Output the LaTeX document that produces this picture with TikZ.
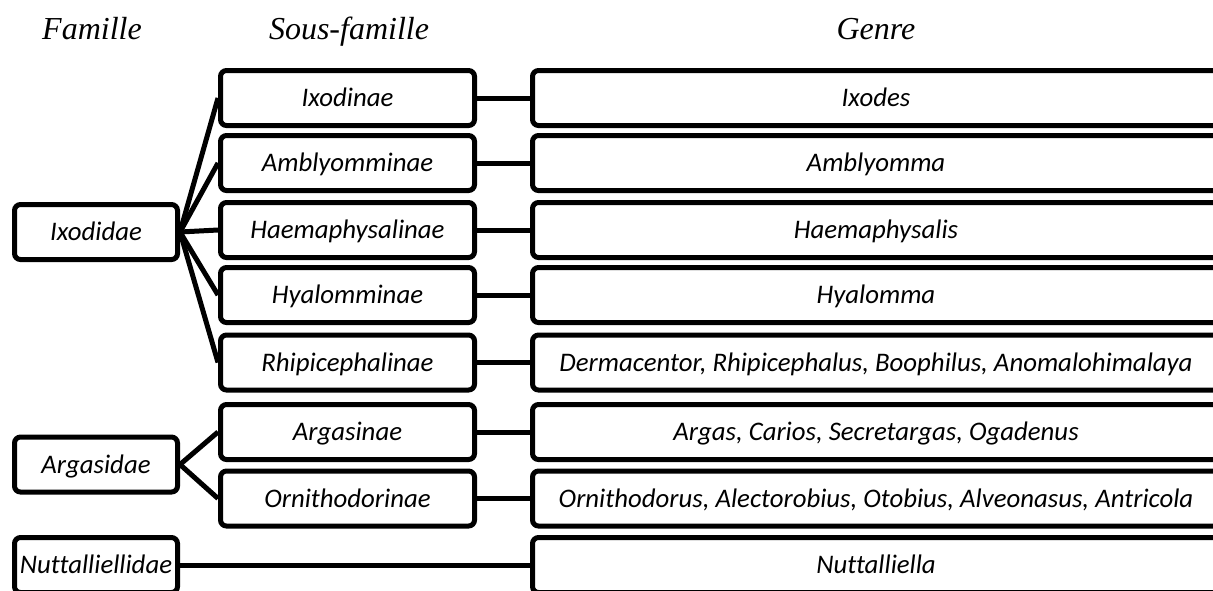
\documentclass[tikz,border=0pt]{standalone}
\usepackage{fontspec}
\setmainfont{Liberation Serif}
\newfontfamily\calibri[Ligatures=NoCommon]{Carlito}
\usetikzlibrary{positioning}

\tikzset{
    taxbox/.style={
        draw, line width=2.5pt, rounded corners=3pt,
        minimum height=27.5pt, inner sep=0pt,
        text height=10.5pt, text depth=2pt,
        font=\calibri\itshape\fontsize{13.4}{15}\selectfont,
    },
    famille/.style={taxbox, minimum width=81.5pt},
    sousfam/.style={taxbox, minimum width=127pt},
    genre/.style={taxbox, minimum width=343.5pt},
    entete/.style={anchor=base, font=\itshape\fontsize{16}{19}\selectfont},
    lien/.style={line width=2.5pt},
}

\begin{document}
\begin{tikzpicture}[x=0.5pt, y=-0.5pt]
    \path[use as bounding box, clip] (0,0) rectangle (1213,590);
    % column heads
    \node[entete] (hfam) at (92,39) {Famille};
    \node[entete] (hsous) at (349,39) {Sous-famille};
    \node[entete] (hgenre) at (876,39) {Genre};
    % families
    \node[famille] (ixodidae) at (96,232) {Ixodidae};
    \node[famille] (argasidae) at (96,464.5) {Argasidae};
    \node[famille] (nuttalliellidae) at (96,565) {Nuttalliellidae};
    % sub-families
    \node[sousfam] (ixodinae) at (347.5,98) {Ixodinae};
    \node[sousfam] (amblyomminae) at (347.5,163) {Amblyomminae};
    \node[sousfam] (haemaphysalinae) at (347.5,230) {Haemaphysalinae};
    \node[sousfam] (hyalomminae) at (347.5,295) {Hyalomminae};
    \node[sousfam] (rhipicephalinae) at (347.5,362.5) {Rhipicephalinae};
    \node[sousfam] (argasinae) at (347.5,432) {Argasinae};
    \node[sousfam] (ornithodorinae) at (347.5,498.5) {Ornithodorinae};
    % genera
    \node[genre] (ixodes) at (876,98) {Ixodes};
    \node[genre] (amblyomma) at (876,163) {Amblyomma};
    \node[genre] (haemaphysalis) at (876,230) {Haemaphysalis};
    \node[genre] (hyalomma) at (876,295) {Hyalomma};
    \node[genre] (rhipi) at (876,362.5) {Dermacentor, Rhipicephalus, Boophilus, Anomalohimalaya};
    \node[genre] (argas) at (876,432) {Argas, Carios, Secretargas, Ogadenus};
    \node[genre] (ornitho) at (876,498.5) {Ornithodorus, Alectorobius, Otobius, Alveonasus, Antricola};
    \node[genre] (nuttalliella) at (876,565) {Nuttalliella};
    % family -> sub-family
    \draw[lien] (ixodidae.east) -- (ixodinae.west);
    \draw[lien] (ixodidae.east) -- (amblyomminae.west);
    \draw[lien] (ixodidae.east) -- (haemaphysalinae.west);
    \draw[lien] (ixodidae.east) -- (hyalomminae.west);
    \draw[lien] (ixodidae.east) -- (rhipicephalinae.west);
    \draw[lien] (argasidae.east) -- (argasinae.west);
    \draw[lien] (argasidae.east) -- (ornithodorinae.west);
    % sub-family -> genus
    \draw[lien] (ixodinae.east) -- (ixodes.west);
    \draw[lien] (amblyomminae.east) -- (amblyomma.west);
    \draw[lien] (haemaphysalinae.east) -- (haemaphysalis.west);
    \draw[lien] (hyalomminae.east) -- (hyalomma.west);
    \draw[lien] (rhipicephalinae.east) -- (rhipi.west);
    \draw[lien] (argasinae.east) -- (argas.west);
    \draw[lien] (ornithodorinae.east) -- (ornitho.west);
    \draw[lien] (nuttalliellidae.east) -- (nuttalliella.west);
\end{tikzpicture}
\end{document}
